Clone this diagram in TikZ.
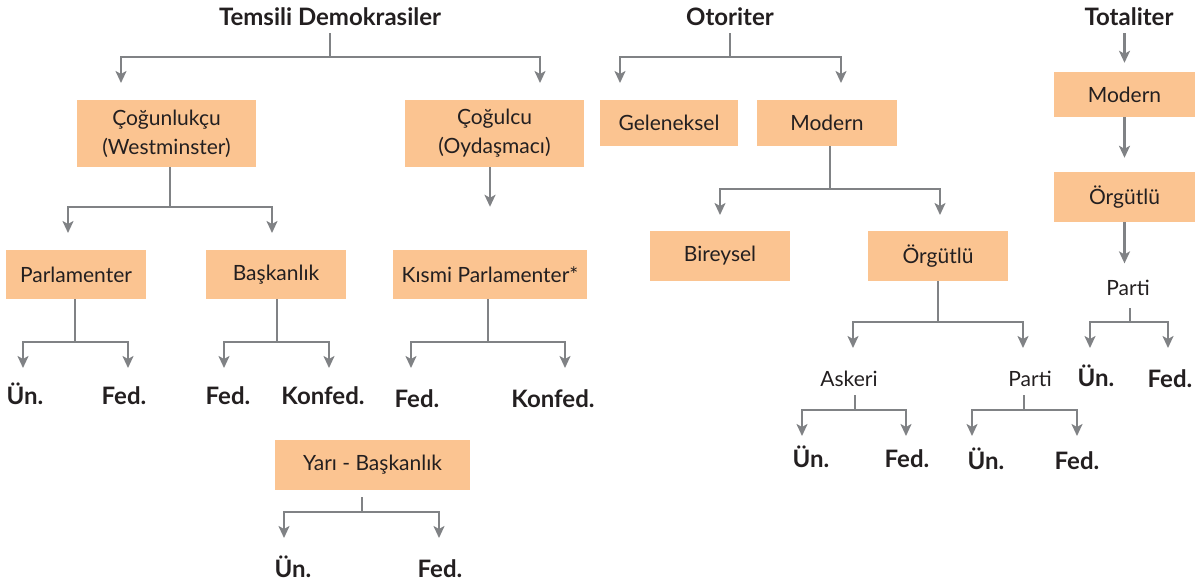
\documentclass[tikz,border=0pt]{standalone}
\usepackage{fontspec}
\setmainfont{Lato}
\usepackage{tikz}
\usetikzlibrary{arrows.meta}
\usepackage{xcolor}
\definecolor{boxfill}{HTML}{FBC491}
\definecolor{linegray}{HTML}{808285}
\definecolor{ink}{HTML}{231F20}

\begin{document}
\begin{tikzpicture}[
    x = 1pt, y = -1pt,
    > = {Stealth[length=12pt, width=11pt, inset=3pt]},
    conn/.style = {->, draw=linegray, line width=2.7pt},
    box/.style = {fill=boxfill, text=ink, inner sep=0pt, align=center,
                  minimum width=140pt, minimum height=50pt,
                  font=\fontsize{21}{29}\selectfont},
    lbl/.style = {text=ink, inner sep=0pt, anchor=base,
                  font=\fontsize{21}{29}\selectfont},
    head/.style = {lbl, font=\fontsize{24}{28}\selectfont\bfseries}
]
    \useasboundingbox (0,0) rectangle (1200,585);

    % headings
    \node[head] (tem) at (330,26) {Temsili Demokrasiler};
    \node[head] (oto) at (730,26) {Otoriter};
    \node[head] (tot) at (1129,26) {Totaliter};

    % boxes
    \node[box, minimum width=179pt, minimum height=67pt] (cog) at (166.5,133.5) {Çoğunlukçu\\(Westminster)};
    \node[box, minimum width=179pt, minimum height=67pt] (cogc) at (494.5,133.5) {Çoğulcu\\(Oydaşmacı)};
    \node[box, minimum height=49pt] (par) at (76,274.5) {Parlamenter};
    \node[box, minimum height=49pt] (bas) at (276,274.5) {Başkanlık};
    \node[box, minimum width=194pt, minimum height=49pt] (kis) at (490,274.5) {Kısmi Parlamenter*};
    \node[box, minimum width=195pt] (yari) at (372.5,465) {Yarı - Başkanlık};
    \node[box, minimum width=138pt, minimum height=46pt] (gel) at (669,123) {Geleneksel};
    \node[box, minimum height=46pt] (omod) at (827,123) {Modern};
    \node[box] (bir) at (720,256) {Bireysel};
    \node[box] (oorg) at (938,256) {Örgütlü};
    \node[box, minimum width=141pt, minimum height=45pt] (tmod) at (1124.5,94.5) {Modern};
    \node[box, minimum width=141pt] (torg) at (1124.5,197) {Örgütlü};

    % plain labels
    \node[lbl] (ask) at (849,387) {Askeri};
    \node[lbl] (opar) at (1030,387) {Parti};
    \node[lbl] (tpar) at (1128,296) {Parti};

    % leaves
    \foreach \n/\x/\y/\t in {par-un/25/405/Ün., par-fed/124/405/Fed.,
        bas-fed/228/405/Fed., bas-kon/323/405/Konfed.,
        kis-fed/417/407/Fed., kis-kon/553/407/Konfed.,
        yari-un/293/577/Ün., yari-fed/440/577/Fed.,
        ask-un/811/467/Ün., ask-fed/907/467/Fed.,
        opar-un/986/469/Ün., opar-fed/1077/469/Fed.,
        tpar-un/1096/387/Ün., tpar-fed/1170/388/Fed.}
        \node[head] (\n) at (\x,\y) {\t};

    % arrow tips of the splits
    \foreach \n/\x/\y in {tem-l/121/83, tem-r/540/83, oto-l/620/83, oto-r/841/83,
        cog-l/68/233, cog-r/272/233, par-l/23/368, par-r/128/368,
        bas-l/224/368, bas-r/329/368, kis-l/411/368, kis-r/565/368,
        yari-l/284/538, yari-r/439/538, omod-l/720/215, omod-r/940/215,
        oorg-l/853/348, oorg-r/1023/348, ask-l/802/436, ask-r/906/436,
        opar-l/972/436, opar-r/1077/436, tpar-l/1090/348, tpar-r/1168/348}
        \coordinate (\n) at (\x,\y);

    % splits
    \foreach \p/\dx/\dy in {tem/0/7, oto/0/7, cog/3.5/0, par/-1/0, bas/1/0,
        kis/-2/0, yari/-10.5/7, omod/3/0, oorg/0/0, ask/6/8, opar/-6/8, tpar/2/12} {
        \draw[conn] ([shift={(\dx,\dy)}]\p.south) |- ([yshift=26pt]\p-l) -- (\p-l);
        \draw[conn] ([shift={(\dx,\dy)}]\p.south) |- ([yshift=26pt]\p-r) -- (\p-r);
    }

    % single arrows
    \draw[conn, shorten >=43pt] (kis.north |- cogc.south) -- (kis.north);
    \draw[conn, shorten <=7pt, shorten >=9pt] (tmod.north |- tot.south) -- (tmod.north);
    \draw[conn, shorten >=14pt] (tmod.south) -- (torg.north);
    \draw[conn, shorten >=17pt] (torg.south) -- (torg.south |- tpar.north);
\end{tikzpicture}
\end{document}
